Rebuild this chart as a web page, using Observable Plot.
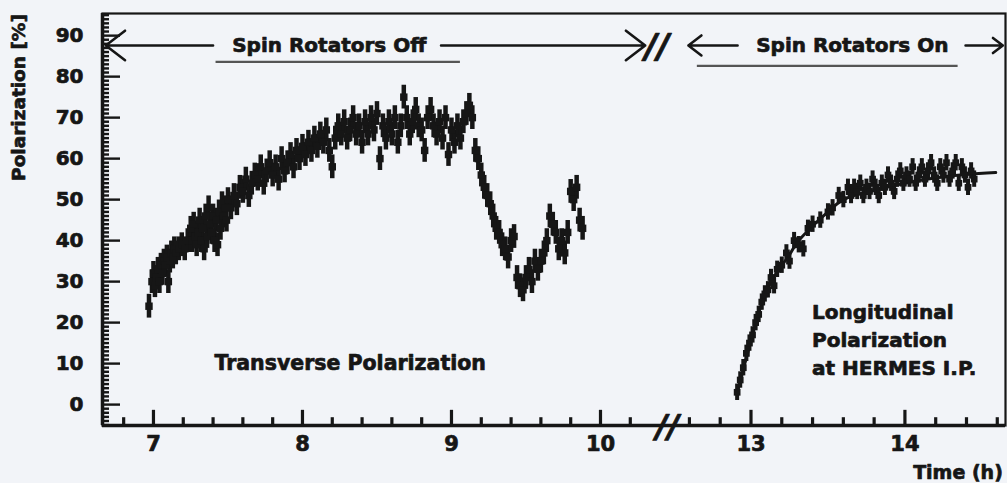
<!DOCTYPE html>
<html><head><meta charset="utf-8">
<script src="https://cdn.jsdelivr.net/npm/d3@7"></script>
<script src="https://cdn.jsdelivr.net/npm/@observablehq/plot@0.6"></script>
<style>
html,body{margin:0;padding:0;background:#f2f4f8;}
#chart svg{display:block;background:#f2f4f8;}
</style></head><body><div id="chart"></div>
<script>
// Transverse polarization (time h, polarization %)
const transverse = [
[6.97,24],[6.99,30],[7.00,32],[7.01,29],[7.02,31],[7.03,33],[7.04,30],[7.05,34],[7.06,32],[7.07,35],[7.08,34],[7.09,36],[7.10,30],[7.11,35],[7.12,37],[7.13,36],[7.14,38],[7.15,37],[7.17,38],[7.19,39],[7.21,38],[7.23,40],
[7.25,43],[7.26,40],[7.27,44],[7.28,41],[7.29,39],[7.30,42],[7.31,45],[7.32,40],[7.33,43],[7.34,38],[7.35,46],[7.36,41],[7.37,48],[7.38,44],[7.39,42],[7.40,46],[7.41,40],[7.42,45],[7.43,39],[7.44,47],[7.45,43],[7.46,49],[7.47,46],[7.48,48],[7.49,45],
[7.50,50],[7.52,48],[7.54,51],[7.56,49],[7.58,53],[7.60,52],[7.62,55],[7.64,51],[7.66,54],[7.68,56],[7.70,55],[7.72,58],[7.74,54],[7.76,57],[7.78,59],[7.80,56],[7.82,58],[7.84,55],[7.86,60],[7.88,57],[7.90,59],[7.92,61],[7.94,58],[7.96,62],[7.98,60],
[8.00,63],[8.02,61],[8.04,64],[8.06,62],[8.08,65],[8.10,63],[8.12,66],[8.14,64],[8.16,67],[8.18,62],[8.20,58],[8.22,65],[8.24,68],[8.26,66],[8.28,69],[8.30,65],[8.32,67],[8.34,70],[8.36,66],[8.38,68],[8.40,64],[8.42,69],[8.44,66],[8.46,70],[8.48,67],
[8.50,71],[8.52,60],[8.54,68],[8.56,65],[8.58,69],[8.60,66],[8.62,70],[8.64,64],[8.66,68],[8.68,75],[8.70,70],[8.72,66],[8.74,69],[8.76,72],[8.78,68],[8.80,67],[8.82,62],[8.84,70],[8.86,72],[8.88,68],[8.90,66],[8.92,69],[8.94,65],[8.96,70],[8.98,61],[9.00,67],[9.02,64],[9.04,68],[9.06,65],[9.08,69],[9.10,71],[9.12,73],[9.14,70],
[9.16,62],[9.18,60],[9.20,56],[9.22,53],[9.24,51],[9.26,49],[9.28,46],[9.30,43],[9.32,42],[9.34,39],[9.36,38],[9.38,36],[9.40,40],[9.42,41],[9.44,31],[9.46,29],[9.48,28],[9.50,31],[9.52,33],[9.54,30],[9.56,35],[9.58,33],[9.60,35],[9.62,37],[9.64,40],[9.66,46],[9.68,44],[9.70,42],[9.72,38],[9.74,40],[9.76,37],[9.78,42],[9.80,52],[9.82,50],[9.84,53],[9.86,45],[9.88,43]
];
// Longitudinal polarization at HERMES I.P.
const longitudinal = [
[12.91,3],[12.93,6],[12.95,9],[12.97,12.5],[12.99,15],[13.01,17],[13.03,20],[13.05,22],[13.07,25],[13.09,27],[13.11,28],[13.13,31],[13.15,29],[13.17,33],[13.20,34],[13.23,37],[13.25,35],[13.28,40],[13.31,39],[13.34,38],[13.37,43],[13.40,44],[13.45,45],[13.50,47],[13.53,48],[13.57,51],[13.60,50],
[13.63,53],[13.65,51],[13.67,53],[13.69,52],[13.71,54],[13.73,51],[13.75,53],[13.77,52],[13.79,55],[13.81,53],[13.83,51],[13.85,54],[13.87,53],[13.89,56],[13.91,54],[13.93,52],[13.95,55],[13.97,57],[13.99,54],[14.01,56],[14.03,55],[14.05,58],[14.07,54],[14.09,56],[14.11,58],[14.13,55],[14.15,57],[14.17,59],[14.19,56],[14.21,54],[14.23,58],[14.25,56],[14.27,59],[14.29,55],[14.31,57],[14.33,59],[14.35,54],[14.37,58],[14.39,56],[14.41,53],[14.43,57],[14.45,55]
];
// Fit curve through longitudinal data
const fitCurve = [
[12.91,2.7],[12.96,10],[13.01,17],[13.06,23.5],[13.125,29.5],[13.18,33],[13.24,36],[13.30,39.5],[13.37,42.4],[13.44,45],[13.50,47],[13.56,49],[13.63,50.5],[13.70,51.3],[13.78,52],[13.90,53.2],[14.00,54],[14.10,54.7],[14.22,55.4],[14.40,56.1],[14.59,56.6]
];
const errTransverse = 2.9;
const errLongitudinal = 2.0;

const xMajor = [7, 8, 9, 10, 13, 14];
const xMinor = [6.8, 7.2, 7.4, 7.6, 7.8, 8.2, 8.4, 8.6, 8.8, 9.2, 9.4, 9.6, 9.8, 10.2, 12.6, 12.8, 13.2, 13.4, 13.6, 13.8, 14.2, 14.4, 14.6];
const yMajor = [0, 10, 20, 30, 40, 50, 60, 70, 80, 90];
const yMinor = d3.range(-5, 96, 1).filter(v => v % 10 !== 0);

// broken time axis: 10.45 h ... 12.45 h removed
const u = t => t < 11 ? t : 11.01 + (t - 13) * 1.033;
const xDom = [6.658, 12.718];
const yDom = [-5.1, 95.4];
const xL = xDom[0], yB = yDom[0];
const breakU = 10.45;
const topY = 87.6;

const font = "DejaVu Sans";
const ink = "#161616";
const heavy = {fontWeight: "bold", fill: ink, stroke: ink, strokeWidth: 0.7};

const arrows = [
  {x1: 7.40, x2: 6.68}, {x1: 8.93, x2: 10.30},
  {x1: 10.92, x2: 10.59}, {x1: 12.45, x2: 12.70}
];
const underlines = [{x1: 7.42, x2: 9.06, y: 83.6}, {x1: 10.65, x2: 12.40, y: 82.6}];
const headers = [{x: 8.18, text: "Spin Rotators Off"}, {x: 11.69, text: "Spin Rotators On"}];
const longLabel = [{y: 22.4, text: "Longitudinal"}, {y: 15.6, text: "Polarization"}, {y: 8.8, text: "at HERMES I.P."}];

const chart = Plot.plot({
  width: 1007, height: 483,
  marginLeft: 102, marginRight: 2, marginTop: 13, marginBottom: 58,
  x: {domain: xDom, axis: null},
  y: {domain: yDom, axis: null},
  style: {background: "#f2f4f8", fontFamily: font},
  marks: [
    Plot.frame({stroke: ink, strokeWidth: 2.2}),
    Plot.ruleX([xL], {y1: yB, y2: yDom[1], stroke: ink, strokeWidth: 3.5}),
    Plot.ruleY([yB], {x1: xL, x2: xDom[1], stroke: ink, strokeWidth: 3.5}),
    // y ticks (inward)
    Plot.ruleY(yMinor, {x1: xL, x2: xL + (7 / 149), stroke: ink, strokeWidth: 2.4}),
    Plot.ruleY(yMajor, {x1: xL, x2: xL + (18 / 149), stroke: ink, strokeWidth: 2.4}),
    Plot.text(yMajor, {x: xL, y: d => d, dx: -19, textAnchor: "end", text: d => String(d), fontSize: 20, ...heavy}),
    // x ticks (inward)
    Plot.ruleX(xMinor, {x: u, y1: yB, y2: yB + 1.9, stroke: ink, strokeWidth: 3.2}),
    Plot.ruleX(xMajor, {x: u, y1: yB, y2: yB + 3.7, stroke: ink, strokeWidth: 3.2}),
    Plot.text(xMajor, {x: u, y: yB, dy: 19, text: d => String(d), fontSize: 21, ...heavy}),
    // axis break marks
    Plot.text([breakU], {x: d => d, y: yB, text: () => "//", fontSize: 32, fontStyle: "italic", ...heavy, dy: 1}),
    Plot.text([breakU - 0.07], {x: d => d, y: topY, text: () => "//", fontSize: 34, fontStyle: "italic", ...heavy, dy: 2}),
    // header arrows
    Plot.arrow(arrows, {x1: "x1", x2: "x2", y1: topY, y2: topY, stroke: ink, strokeWidth: 2.6, headLength: 14, headAngle: 75}),
    Plot.ruleY(underlines, {x1: "x1", x2: "x2", y: "y", stroke: "#555", strokeWidth: 2.2}),
    Plot.text(headers, {x: "x", y: topY, text: "text", fontSize: 20, ...heavy}),
    // labels
    Plot.text(["Transverse Polarization"], {x: 8.32, y: 10, text: d => d, fontSize: 20.5, ...heavy}),
    Plot.text(longLabel, {x: 11.42, y: "y", text: "text", textAnchor: "start", fontSize: 20, ...heavy}),
    Plot.text(["Polarization [%]"], {x: 6.10, y: 74.9, rotate: -90, text: d => d, fontSize: 18.5, ...heavy}),
    Plot.text(["Time (h)"], {x: 12.70, y: -16.6, textAnchor: "end", text: d => d, fontSize: 19, ...heavy}),
    // fit
    Plot.line(fitCurve, {x: d => u(d[0]), y: d => d[1], curve: "natural", stroke: ink, strokeWidth: 3}),
    // data
    Plot.ruleX(transverse, {x: d => u(d[0]), y1: d => d[1] - errTransverse, y2: d => d[1] + errTransverse, stroke: ink, strokeWidth: 4.5}),
    Plot.dot(transverse, {x: d => u(d[0]), y: d => d[1], symbol: "square", r: 4.2, fill: ink}),
    Plot.ruleX(longitudinal, {x: d => u(d[0]), y1: d => d[1] - errLongitudinal, y2: d => d[1] + errLongitudinal, stroke: ink, strokeWidth: 4}),
    Plot.dot(longitudinal, {x: d => u(d[0]), y: d => d[1], symbol: "square", r: 3.8, fill: ink})
  ]
});
document.getElementById("chart").appendChild(chart);
</script></body></html>
